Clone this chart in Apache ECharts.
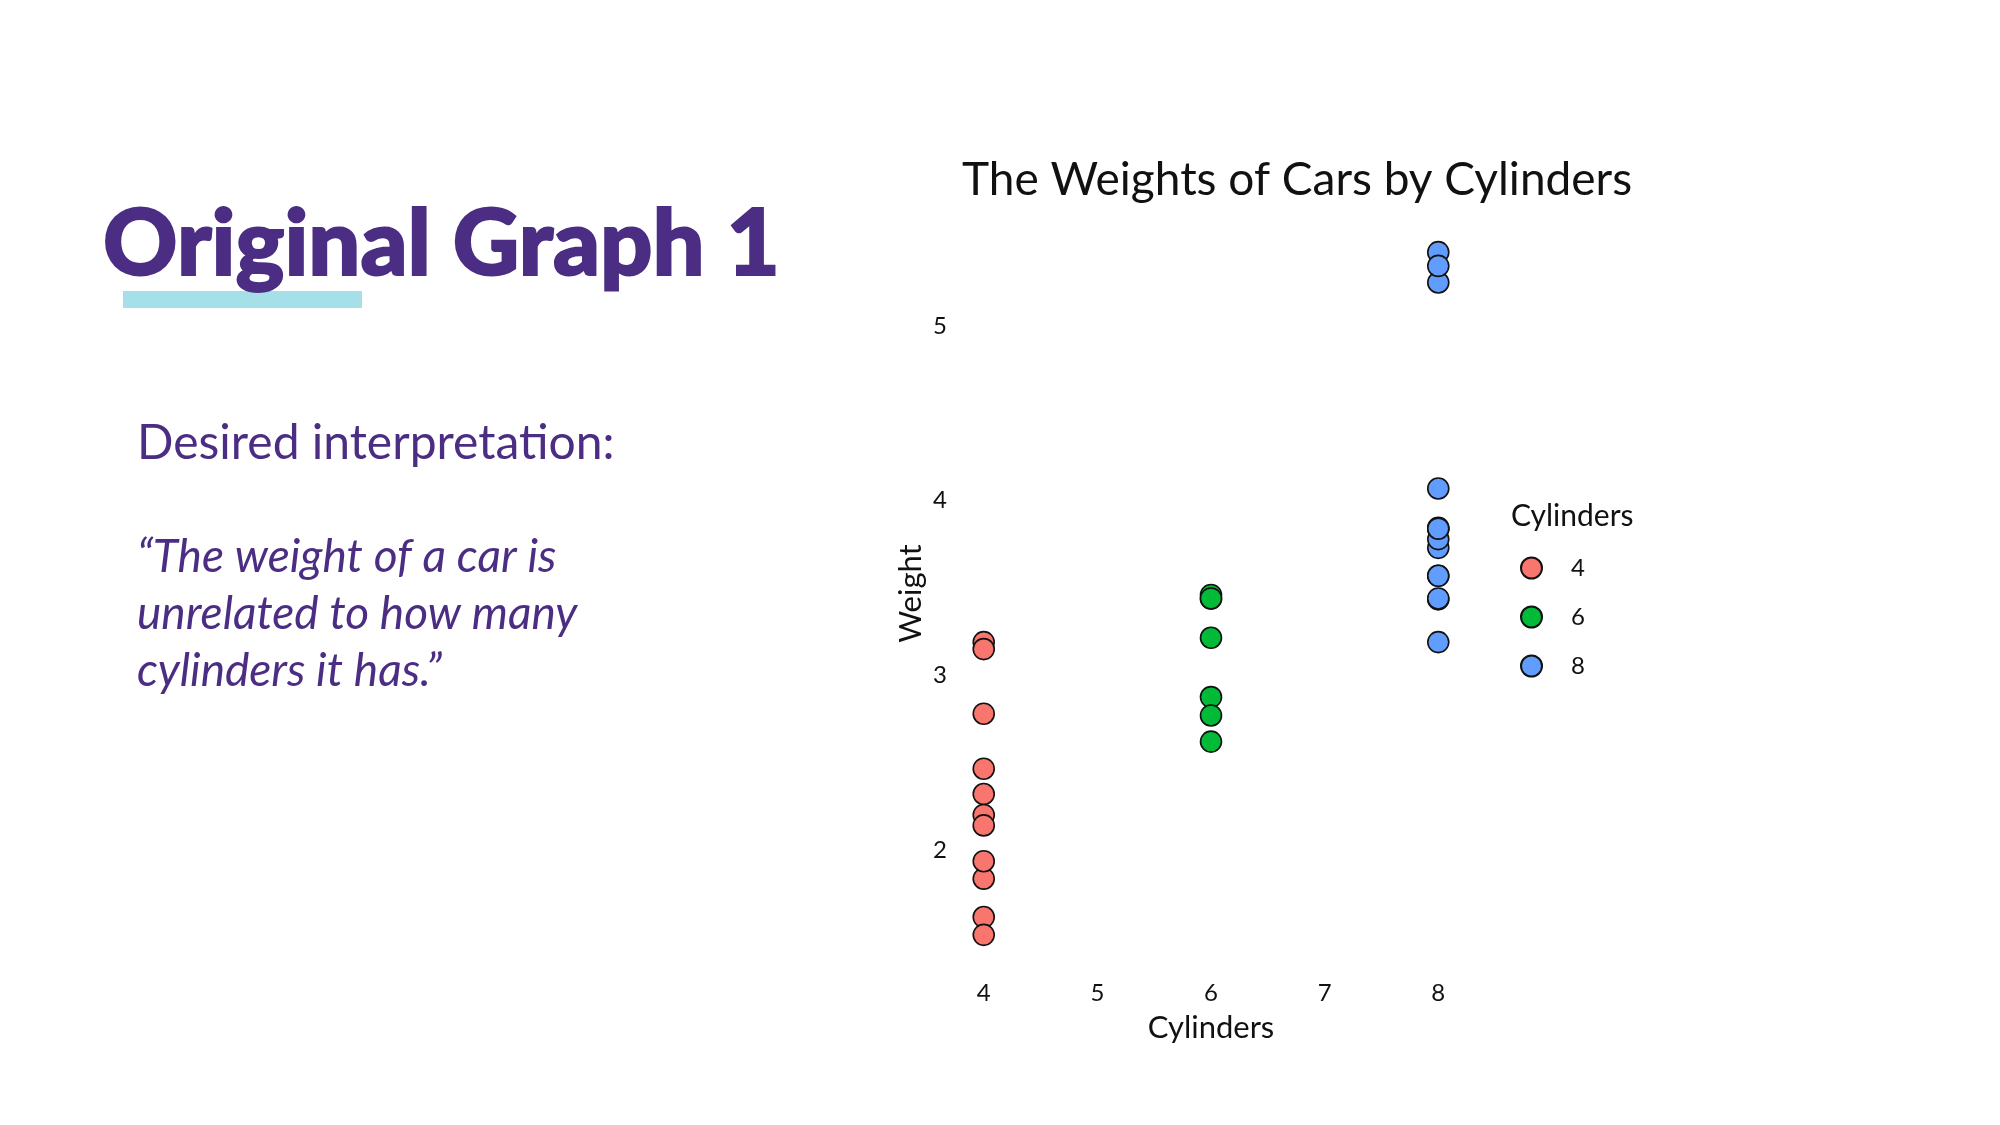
<!DOCTYPE html>
<html>
<head>
<meta charset="utf-8">
<script src="https://cdn.jsdelivr.net/npm/echarts@6/dist/echarts.min.js"></script>
<style>
  html, body { margin: 0; padding: 0; background: #fff; }
  #main { width: 2000px; height: 1125px; }
</style>
</head>
<body>
<div id="main"></div>
<script>
// car weights (1000 lbs) grouped by cylinder count
var cylinders = ['4', '6', '8'];
var weights4 = [2.32, 3.19, 3.15, 2.2, 1.615, 1.835, 2.465, 1.935, 2.14, 1.513, 2.78];
var weights6 = [2.62, 2.875, 3.215, 3.44, 3.46, 3.44, 2.77];
var weights8 = [3.57, 3.19, 3.84, 3.845, 4.07, 3.73, 3.78, 5.25, 5.424, 5.345, 3.435, 3.44, 3.57, 3.84];
var xTicks = [4, 5, 6, 7, 8];
var yTicks = [2, 3, 4, 5];
var colors = ['#F8766D', '#00BA38', '#619CFF'];

var purple = '#4B2E83';
var chartFont = 'Lato';

(function () {
    var myChart = echarts.init(document.getElementById('main'));

    var groups = [weights4, weights6, weights8];
    var series = cylinders.map(function (c, i) {
        return {
            name: c,
            type: 'scatter',
            symbol: 'circle',
            symbolSize: 21,
            itemStyle: {
                color: colors[i],
                borderColor: '#111',
                borderWidth: 1.6,
                opacity: 1
            },
            data: groups[i].map(function (w) { return [Number(c), w]; })
        };
    });

    var option = {
        backgroundColor: '#fff',
        animation: false,
        textStyle: { fontFamily: chartFont },
        title: [
            {
                text: 'The Weights of Cars by Cylinders',
                left: 957,
                top: 152,
                textStyle: { fontFamily: chartFont, fontWeight: 'normal', fontSize: 46, color: '#111' }
            },
            {
                text: 'Cylinders',
                left: 1506,
                top: 496,
                textStyle: { fontFamily: chartFont, fontWeight: 'normal', fontSize: 30, color: '#111' }
            }
        ],
        legend: {
            orient: 'vertical',
            left: 1515,
            top: 551,
            itemWidth: 21,
            itemHeight: 21,
            itemGap: 25,
            icon: 'circle',
            data: cylinders,
            textStyle: { fontFamily: chartFont, fontSize: 24, color: '#111', padding: [0, 0, 0, 24] }
        },
        grid: {
            left: 961,
            top: 218,
            width: 500,
            height: 751
        },
        xAxis: {
            type: 'value',
            min: 3.8,
            max: 8.2,
            name: 'Cylinders',
            nameLocation: 'middle',
            nameGap: 43,
            nameTextStyle: { fontFamily: chartFont, fontSize: 31, color: '#111' },
            axisLine: { show: false },
            axisTick: { show: false },
            splitLine: { show: false },
            axisLabel: { customValues: xTicks, fontSize: 24, color: '#111', margin: 12 }
        },
        yAxis: {
            type: 'value',
            min: 1.3175,
            max: 5.6195,
            name: 'Weight',
            nameLocation: 'middle',
            nameGap: 35,
            nameTextStyle: { fontFamily: chartFont, fontSize: 31, color: '#111' },
            axisLine: { show: false },
            axisTick: { show: false },
            splitLine: { show: false },
            axisLabel: { customValues: yTicks, fontSize: 24, color: '#111', margin: 14 }
        },
        graphic: [
            {
                type: 'rect',
                shape: { x: 123, y: 291, width: 239, height: 17 },
                style: { fill: '#A5DFE8' },
                z: 1
            },
            {
                type: 'text',
                x: 103, y: 245,
                z: 2,
                style: {
                    text: 'Original Graph 1', font: '900 92px Lato', fill: purple,
                    stroke: purple, lineWidth: 2, verticalAlign: 'middle'
                }
            },
            {
                type: 'text',
                x: 137, y: 444,
                style: { text: 'Desired interpretation:', font: '48px Lato', fill: purple, verticalAlign: 'middle' }
            },
            {
                type: 'text',
                x: 137, y: 557,
                style: { text: '\u201CThe weight of a car is', font: 'italic 46px Lato', fill: purple, verticalAlign: 'middle' }
            },
            {
                type: 'text',
                x: 137, y: 614,
                style: { text: 'unrelated to how many', font: 'italic 46px Lato', fill: purple, verticalAlign: 'middle' }
            },
            {
                type: 'text',
                x: 137, y: 671,
                style: { text: 'cylinders it has.\u201D', font: 'italic 46px Lato', fill: purple, verticalAlign: 'middle' }
            }
        ],
        series: series
    };
    myChart.setOption(option);
})();
</script>
</body>
</html>
